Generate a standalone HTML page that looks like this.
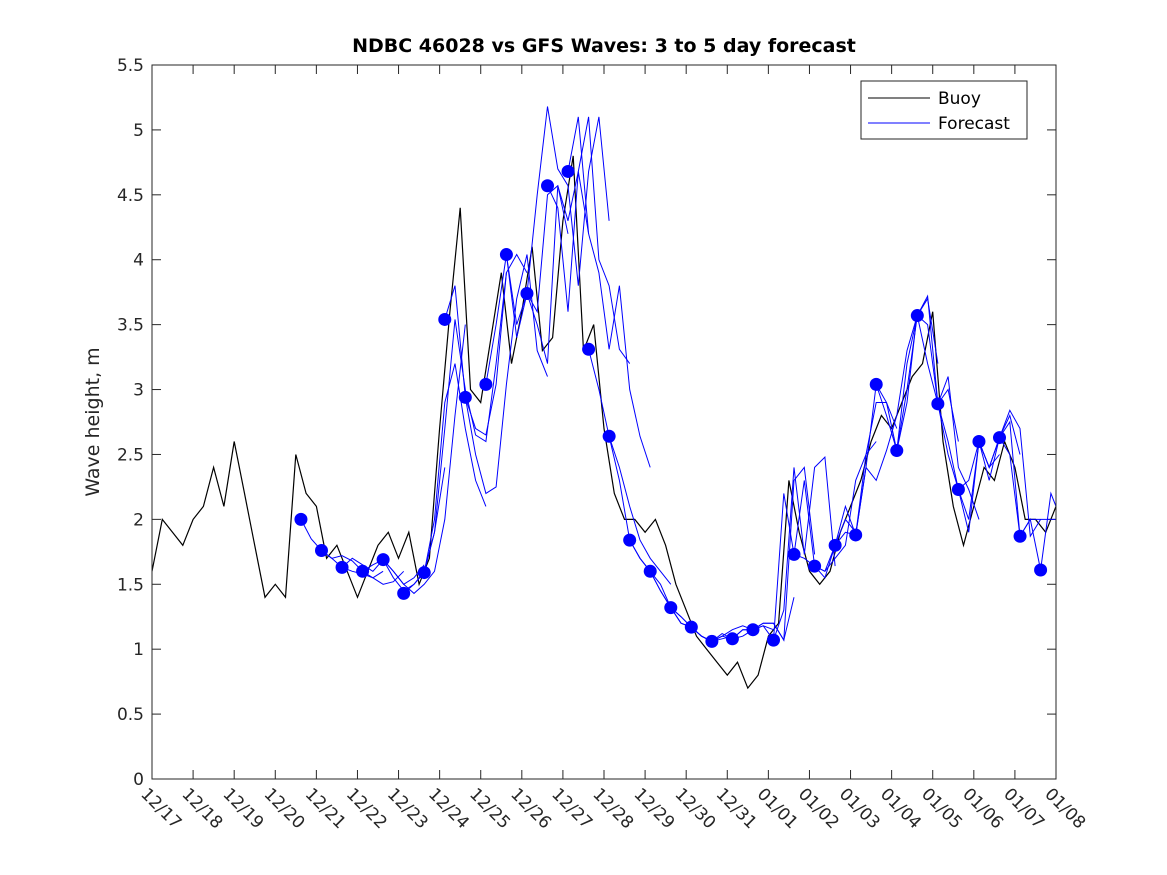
<!DOCTYPE html>
<html><head><meta charset="utf-8"><style>
html,body{margin:0;padding:0;background:#fff;}
svg{display:block;font-family:"DejaVu Sans","Liberation Sans",sans-serif;}
</style></head><body>
<svg id="chart" width="1167" height="875" viewBox="0 0 1167 875" xmlns="http://www.w3.org/2000/svg">
<defs><clipPath id="clip"><rect x="152" y="65" width="904" height="714"/></clipPath></defs>
<rect x="0" y="0" width="1167" height="875" fill="#fff"/>
<text x="604" y="52" text-anchor="middle" font-size="19" font-weight="bold">NDBC 46028 vs GFS Waves: 3 to 5 day forecast</text>
<text transform="translate(99,422) rotate(-90)" text-anchor="middle" font-size="19" fill="#262626">Wave height, m</text>
<g id="axes"></g>
<g id="series" clip-path="url(#clip)"></g>
<rect x="152" y="65" width="904" height="714" fill="none" stroke="#262626" stroke-width="1"/>
<g>
<rect x="861" y="81" width="166" height="58" fill="#fff" stroke="#262626"/>
<line x1="868" y1="98" x2="930" y2="98" stroke="#000"/>
<text x="938" y="104" font-size="17">Buoy</text>
<line x1="868" y1="123" x2="930" y2="123" stroke="#0000ff"/>
<text x="938" y="129" font-size="17">Forecast</text>
</g>
</svg>
<script>
const xTickLabels=["12/17","12/18","12/19","12/20","12/21","12/22","12/23","12/24","12/25","12/26","12/27","12/28","12/29","12/30","12/31","01/01","01/02","01/03","01/04","01/05","01/06","01/07","01/08"];
const yTickLabels=["0","0.5","1","1.5","2","2.5","3","3.5","4","4.5","5","5.5"];
const buoyStep=0.25;
const buoyValues=[1.6,2.0,1.9,1.8,2.0,2.1,2.4,2.1,2.6,2.2,1.8,1.4,1.5,1.4,2.5,2.2,2.1,1.7,1.8,1.6,1.4,1.6,1.8,1.9,1.7,1.9,1.5,1.7,2.7,3.6,4.4,3.0,2.9,3.4,3.9,3.2,3.6,4.1,3.3,3.4,4.3,4.8,3.3,3.5,2.7,2.2,2.0,2.0,1.9,2.0,1.8,1.5,1.3,1.1,1.0,0.9,0.8,0.9,0.7,0.8,1.1,1.2,2.3,1.9,1.6,1.5,1.6,1.9,2.1,2.3,2.6,2.8,2.7,2.9,3.1,3.2,3.6,2.6,2.1,1.8,2.1,2.4,2.3,2.6,2.4,2.0,2.0,1.9,2.1];
const dotStart=3.625;
const dotStep=0.5;
const dotValues=[2.00,1.76,1.63,1.60,1.69,1.43,1.59,3.54,2.94,3.04,4.04,3.74,4.57,4.68,3.31,2.64,1.84,1.60,1.32,1.17,1.06,1.08,1.15,1.07,1.73,1.64,1.80,1.88,3.04,2.53,3.57,2.89,2.23,2.60,2.63,1.87,1.61];
const runStarts=[3.625,4.125,4.625,5.125,5.625,6.125,6.625,7.125,7.625,8.125,8.625,9.125,9.625,10.125,10.625,11.125,11.625,12.125,12.625,13.125,13.625,14.125,14.625,15.125,15.625,16.125,16.625,17.125,17.625,18.125,18.625,19.125,19.625,20.125,20.625];
const runStep=0.25;
const runValues=[
[2.0,1.85,1.76,1.7,1.63,1.6,1.58,1.55,1.6],
[1.76,1.7,1.72,1.68,1.6,1.55,1.5,1.52,1.6],
[1.63,1.7,1.65,1.6,1.69,1.6,1.5,1.55,1.65],
[1.6,1.65,1.69,1.55,1.45,1.5,1.6,1.9,2.4],
[1.69,1.6,1.5,1.43,1.5,1.6,2.0,2.8,3.5],
[1.43,1.5,1.59,2.0,2.9,3.2,2.7,2.3,2.1],
[1.59,1.9,2.7,3.54,3.0,2.65,2.6,3.2,3.9],
[3.54,3.8,2.94,2.7,2.65,3.04,3.9,4.04,3.9],
[2.94,2.5,2.2,2.25,3.04,3.7,4.04,3.3,3.1],
[3.04,3.5,4.04,3.5,3.74,3.6,4.5,4.57,4.2],
[4.04,3.4,3.74,3.5,3.2,4.57,4.3,4.68,4.2],
[3.74,4.5,5.18,4.7,4.57,3.8,4.68,5.1,4.3],
[4.57,4.4,3.6,4.68,5.1,4.0,3.8,3.31,3.2],
[4.68,5.1,4.2,3.9,3.31,3.8,3.0,2.64,2.4],
[3.31,3.0,2.64,2.4,2.1,1.84,1.7,1.6,1.5],
[2.64,2.3,1.84,1.7,1.6,1.5,1.32,1.25,1.17],
[1.84,1.7,1.6,1.45,1.32,1.2,1.17,1.1,1.06],
[1.6,1.45,1.32,1.2,1.17,1.1,1.06,1.08,1.1],
[1.32,1.25,1.17,1.1,1.06,1.1,1.08,1.1,1.15],
[1.17,1.1,1.06,1.12,1.08,1.15,1.15,1.18,1.15],
[1.06,1.1,1.15,1.18,1.15,1.2,1.2,1.07,1.4],
[1.08,1.15,1.15,1.2,1.2,1.07,2.3,2.4,1.73],
[1.15,1.18,1.07,1.3,2.4,1.73,2.4,2.48,1.64],
[1.07,2.2,1.73,1.7,1.64,1.6,1.8,2.0,1.9],
[1.73,2.3,1.64,1.6,1.7,1.8,2.3,2.5,2.6],
[1.64,1.55,1.8,1.9,1.88,2.5,2.9,2.9,2.7],
[1.8,2.1,1.88,2.4,3.04,2.8,2.53,2.9,3.6],
[1.88,2.4,2.3,2.53,2.8,3.3,3.57,3.7,3.2],
[3.04,2.9,2.53,3.2,3.57,3.72,2.89,3.0,2.6],
[2.53,3.0,3.57,3.5,2.89,3.1,2.4,2.23,2.0],
[3.57,3.2,2.89,2.6,2.23,2.3,2.6,2.4,2.5],
[2.89,2.5,2.23,2.0,2.6,2.4,2.63,2.8,2.5],
[2.23,1.9,2.6,2.3,2.63,2.84,2.7,1.87,2.0],
[2.6,2.4,2.63,2.75,1.87,2.0,2.0,2.0,2.0],
[2.63,2.5,1.87,2.0,1.61,2.2,2.0,2.4,2.6]
];
const NS="http://www.w3.org/2000/svg";
const X0=152,X1=1056,Y0=779,Y1=65,DAYS=22,YMAX=5.5;
function xs(d){return X0+(X1-X0)*d/DAYS;}
function ys(v){return Y0-(Y0-Y1)*v/YMAX;}
function mk(tag,attrs,parent){const e=document.createElementNS(NS,tag);for(const k in attrs)e.setAttribute(k,attrs[k]);parent.appendChild(e);return e;}
const axes=document.getElementById('axes');
const series=document.getElementById('series');
xTickLabels.forEach((lab,i)=>{
  const x=xs(i);
  const t1=mk('line',{x1:x,y1:Y0,x2:x,y2:Y0-9,stroke:'#262626'},axes);
  
  
  const t2=mk('line',{x1:x,y1:Y1,x2:x,y2:Y1+9,stroke:'#262626'},axes);
  
  
  const tx=mk('text',{x:0,y:0,'font-size':'17',fill:'#262626',transform:`translate(${x-12},${Y0+16}) rotate(45)`},axes);
  tx.textContent=lab;
  
  
});
yTickLabels.forEach((lab,i)=>{
  const y=ys(parseFloat(lab));
  const t1=mk('line',{x1:X0,y1:y,x2:X0+9,y2:y,stroke:'#262626'},axes);
  
  
  const t2=mk('line',{x1:X1,y1:y,x2:X1-9,y2:y,stroke:'#262626'},axes);
  
  
  const tx=mk('text',{x:X0-8,y:y+6,'text-anchor':'end','font-size':'17',fill:'#262626'},axes);
  tx.textContent=lab;
  
  
});
const bp=buoyValues.map((v,i)=>xs(i*buoyStep).toFixed(1)+','+ys(v).toFixed(1)).join(' ');
const buoy=mk('polyline',{points:bp,fill:'none',stroke:'#000','stroke-width':'1.2'},series);


runValues.forEach((vals,r)=>{
  const p=vals.map((v,i)=>xs(runStarts[r]+i*runStep).toFixed(1)+','+ys(v).toFixed(1)).join(' ');
  const l=mk('polyline',{points:p,fill:'none',stroke:'#0000ff','stroke-width':'1'},series);
  
  
});
dotValues.forEach((v,i)=>{
  const c=mk('circle',{cx:xs(dotStart+i*dotStep),cy:ys(v),r:6.5,fill:'#0000ff'},series);
  
  
});
</script>
</body></html>
